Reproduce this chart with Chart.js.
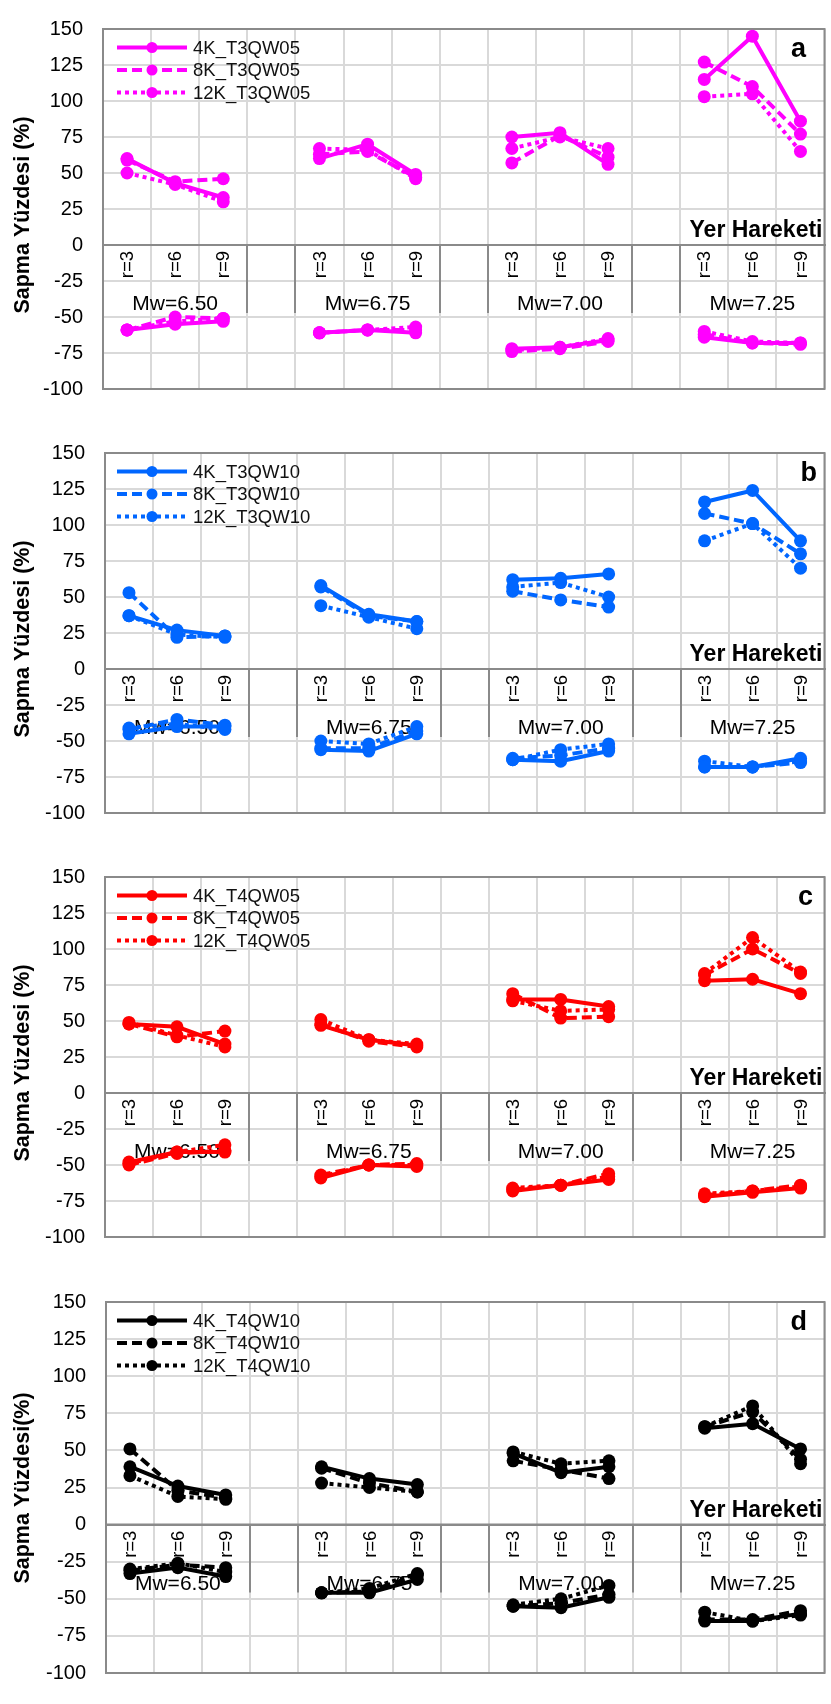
<!DOCTYPE html>
<html>
<head>
<meta charset="utf-8">
<script src="https://cdn.jsdelivr.net/npm/chart.js@4.4.1/dist/chart.umd.min.js"></script>
<style>
  html, body { margin: 0; padding: 0; background: #ffffff; }
  body { position: relative; width: 831px; height: 1704px; overflow: hidden; }
  canvas { position: absolute; left: 0; }
</style>
</head>
<body>
<script>
// ---- categories & ticks ----
const categories = ['r=3', 'r=6', 'r=9', '', 'r=3', 'r=6', 'r=9', '', 'r=3', 'r=6', 'r=9', '', 'r=3', 'r=6', 'r=9'];
const magnitudes = ['Mw=6.50', 'Mw=6.75', 'Mw=7.00', 'Mw=7.25'];
const yMin = -100;
const yMax = 150;
const yStep = 25;

// ---- panel a (T3QW05) : 4 magnitudes x (r=3, r=6, r=9) ----
const a4KPos  = [60, 43, 33,  60, 70, 49,  75, 78, 56,  115, 145, 86];
const a8KPos  = [59, 44, 46,  63, 65, 47,  57, 76, 61,  127, 110, 77];
const a12KPos = [50, 42, 30,  67, 66, 46,  67, 75, 67,  103, 105, 65];
const a4KNeg  = [-59, -55, -53,  -61, -59, -61,  -72, -71, -66,  -64, -68, -68];
const a8KNeg  = [-59, -50, -51,  -61, -59, -59,  -74, -72, -67,  -62, -68, -69];
const a12KNeg = [-59, -53, -51,  -61, -59, -57,  -73, -71, -65,  -60, -67, -68];

// ---- panel b (T3QW10) ----
const b4KPos  = [37, 27, 23,  58, 38, 33,  62, 63, 66,  116, 124, 89];
const b8KPos  = [53, 22, 23,  57, 37, 33,  54, 48, 43,  108, 101, 80];
const b12KPos = [37, 24, 22,  44, 36, 28,  57, 60, 50,  89, 101, 70];
const b4KNeg  = [-45, -40, -40,  -56, -57, -45,  -63, -64, -57,  -68, -68, -62];
const b8KNeg  = [-42, -35, -39,  -55, -55, -43,  -62, -60, -55,  -68, -68, -65];
const b12KNeg = [-41, -38, -42,  -50, -52, -40,  -63, -56, -52,  -64, -68, -64];

// ---- panel c (T4QW05) ----
const c4KPos  = [48, 46, 34,  47, 37, 33,  65, 65, 60,  78, 79, 69];
const c8KPos  = [48, 39, 43,  48, 36, 32,  69, 52, 53,  82, 100, 83];
const c12KPos = [49, 40, 32,  51, 37, 34,  64, 57, 58,  83, 108, 84];
const c4KNeg  = [-48, -41, -41,  -59, -50, -51,  -68, -64, -60,  -72, -69, -66];
const c8KNeg  = [-50, -42, -40,  -57, -50, -49,  -67, -64, -56,  -71, -68, -64];
const c12KNeg = [-49, -41, -36,  -58, -50, -50,  -66, -64, -58,  -70, -68, -65];

// ---- panel d (T4QW10) ----
const d4KPos  = [39, 26, 20,  39, 31, 27,  48, 35, 39,  65, 68, 51];
const d8KPos  = [51, 23, 18,  38, 28, 22,  43, 37, 31,  66, 76, 44];
const d12KPos = [33, 19, 17,  28, 25, 22,  49, 41, 43,  66, 80, 41];
const d4KNeg  = [-33, -29, -35,  -46, -46, -37,  -55, -56, -49,  -65, -65, -60];
const d8KNeg  = [-31, -27, -29,  -46, -45, -34,  -55, -53, -47,  -64, -64, -58];
const d12KNeg = [-30, -26, -32,  -46, -43, -33,  -54, -50, -41,  -59, -65, -61];

// place 12 grouped values onto the 15 category slots (empty slot between groups)
function toSlots(vals) {
  const out = [];
  vals.forEach((v, i) => {
    out.push(v);
    if (i % 3 === 2 && i < vals.length - 1) out.push(null);
  });
  return out;
}

const FONT = '"Liberation Sans", Arial, Helvetica, sans-serif';
Chart.defaults.font.family = FONT;

const panels = [
  { letter: 'a', color: '#FF00FF', names: ['4K_T3QW05', '8K_T3QW05', '12K_T3QW05'],
    pos: [a4KPos, a8KPos, a12KPos], neg: [a4KNeg, a8KNeg, a12KNeg],
    yTitle: 'Sapma Yüzdesi (%)', box: { top: 11, bottom: 407, left: 103, right: 828 }, letterX: 806 },
  { letter: 'b', color: '#0066FF', names: ['4K_T3QW10', '8K_T3QW10', '12K_T3QW10'],
    pos: [b4KPos, b8KPos, b12KPos], neg: [b4KNeg, b8KNeg, b12KNeg],
    yTitle: 'Sapma Yüzdesi (%)', box: { top: 435, bottom: 831, left: 105, right: 828 }, letterX: 817 },
  { letter: 'c', color: '#FF0000', names: ['4K_T4QW05', '8K_T4QW05', '12K_T4QW05'],
    pos: [c4KPos, c8KPos, c12KPos], neg: [c4KNeg, c8KNeg, c12KNeg],
    yTitle: 'Sapma Yüzdesi (%)', box: { top: 859, bottom: 1255, left: 105, right: 827 }, letterX: 813 },
  { letter: 'd', color: '#000000', names: ['4K_T4QW10', '8K_T4QW10', '12K_T4QW10'],
    pos: [d4KPos, d8KPos, d12KPos], neg: [d4KNeg, d8KNeg, d12KNeg],
    yTitle: 'Sapma Yüzdesi(%)', box: { top: 1284, bottom: 1691, left: 106, right: 826 }, letterX: 807 }
];

const dashes = [[], [10, 5], [4, 4]];
const GRID = '#d9d9d9';
const AXIS = '#8a8a8a';

// extra drawing: category labels, group separators, frame, magnitude labels, legend, titles
const decorPlugin = {
  id: 'decor',
  beforeDatasetsDraw(chart, args, opts) {
    const { ctx, chartArea: ca, scales: { x, y } } = chart;
    const zeroY = y.getPixelForValue(0);
    ctx.save();
    ctx.strokeStyle = AXIS;
    ctx.lineWidth = 2;
    // zero line
    ctx.beginPath();
    ctx.moveTo(ca.left, zeroY);
    ctx.lineTo(ca.right, zeroY);
    ctx.stroke();
    // separators around the empty slots
    [3, 7, 11].forEach(g => {
      [g - 0.5, g + 0.5].forEach(v => {
        const px = Math.round(x.getPixelForValue(v));
        ctx.beginPath();
        ctx.moveTo(px, zeroY);
        ctx.lineTo(px, zeroY + 68);
        ctx.stroke();
      });
    });
    // frame
    ctx.strokeRect(ca.left, ca.top, ca.right - ca.left, ca.bottom - ca.top);
    // rotated category labels just under the zero line
    ctx.fillStyle = '#000';
    ctx.font = '18.5px ' + FONT;
    categories.forEach((lab, i) => {
      if (!lab) return;
      ctx.save();
      ctx.translate(x.getPixelForValue(i), zeroY + 6);
      ctx.rotate(-Math.PI / 2);
      ctx.textAlign = 'right';
      ctx.textBaseline = 'middle';
      ctx.fillText(lab, 0, 1);
      ctx.restore();
    });
    // magnitude labels
    ctx.font = '21px ' + FONT;
    ctx.textAlign = 'center';
    ctx.textBaseline = 'alphabetic';
    magnitudes.forEach((m, i) => {
      ctx.fillText(m, x.getPixelForValue(i * 4 + 1), zeroY + 65);
    });
    ctx.restore();
  },
  afterDraw(chart, args, opts) {
    const { ctx, chartArea: ca, scales: { y } } = chart;
    const p = opts.panel;
    const zeroY = y.getPixelForValue(0);
    ctx.save();
    // legend
    const ds = chart.data.datasets;
    for (let i = 0; i < 3; i++) {
      const d = ds[i];
      const ly = ca.top + 18.5 + 22.5 * i;
      ctx.strokeStyle = d.borderColor;
      ctx.lineWidth = 4;
      ctx.setLineDash(d.borderDash || []);
      ctx.beginPath();
      ctx.moveTo(117, ly);
      ctx.lineTo(187, ly);
      ctx.stroke();
      ctx.setLineDash([]);
      ctx.fillStyle = d.borderColor;
      ctx.beginPath();
      ctx.arc(152, ly, 5.5, 0, Math.PI * 2);
      ctx.fill();
      ctx.fillStyle = '#111';
      ctx.font = '18.5px ' + FONT;
      ctx.textAlign = 'left';
      ctx.textBaseline = 'middle';
      ctx.fillText(d.label, 193, ly + 1);
    }
    // panel letter
    ctx.fillStyle = '#000';
    ctx.font = 'bold 27px ' + FONT;
    ctx.textAlign = 'right';
    ctx.textBaseline = 'alphabetic';
    ctx.fillText(p.letter, p.letterX, ca.top + 28);
    // ground-motion caption
    ctx.font = 'bold 23px ' + FONT;
    ctx.fillText('Yer Hareketi', ca.right - 2, zeroY - 8);
    // y axis title
    ctx.translate(23, ca.top + 186);
    ctx.rotate(-Math.PI / 2);
    ctx.font = 'bold 21.5px ' + FONT;
    ctx.textAlign = 'center';
    ctx.textBaseline = 'middle';
    ctx.fillText(p.yTitle, 0, 0);
    ctx.restore();
  }
};

panels.forEach(p => {
  const padT = 14, padB = 14;
  const canvas = document.createElement('canvas');
  const h = p.box.bottom - p.box.top + padT + padB;
  canvas.width = 831;
  canvas.height = h;
  canvas.style.width = '831px';
  canvas.style.height = h + 'px';
  canvas.style.top = (p.box.top - padT) + 'px';
  document.body.appendChild(canvas);

  const datasets = [];
  p.pos.forEach((vals, i) => {
    datasets.push(makeSet(p.names[i], toSlots(vals), p.color, dashes[i]));
  });
  p.neg.forEach((vals, i) => {
    datasets.push(makeSet(p.names[i] + ' (-)', toSlots(vals), p.color, dashes[i]));
  });

  new Chart(canvas, {
    type: 'line',
    data: { labels: categories, datasets },
    options: {
      responsive: false,
      animation: false,
      devicePixelRatio: 1,
      layout: { padding: { top: padT, bottom: padB, left: 0, right: 831 - p.box.right } },
      plugins: {
        legend: { display: false },
        tooltip: { enabled: false },
        decor: { panel: p }
      },
      scales: {
        x: {
          type: 'category',
          offset: true,
          position: { y: 0 },
          ticks: { display: false },
          grid: { offset: true, color: GRID, lineWidth: 2, drawTicks: false },
          border: { color: AXIS, width: 2 }
        },
        y: {
          min: yMin, max: yMax,
          ticks: { stepSize: yStep, color: '#000', font: { size: 20 }, padding: 20 },
          grid: { color: GRID, lineWidth: 2, drawTicks: false },
          border: { color: AXIS, width: 2 },
          afterFit: s => { s.width = p.box.left; }
        }
      }
    },
    plugins: [decorPlugin]
  });
});

function makeSet(label, data, color, dash) {
  return {
    label, data,
    borderColor: color,
    backgroundColor: color,
    borderWidth: 4,
    borderDash: dash,
    pointRadius: 6.5,
    pointHoverRadius: 6.5,
    pointBackgroundColor: color,
    pointBorderWidth: 0,
    tension: 0,
    spanGaps: false,
    fill: false
  };
}
</script>
</body>
</html>
